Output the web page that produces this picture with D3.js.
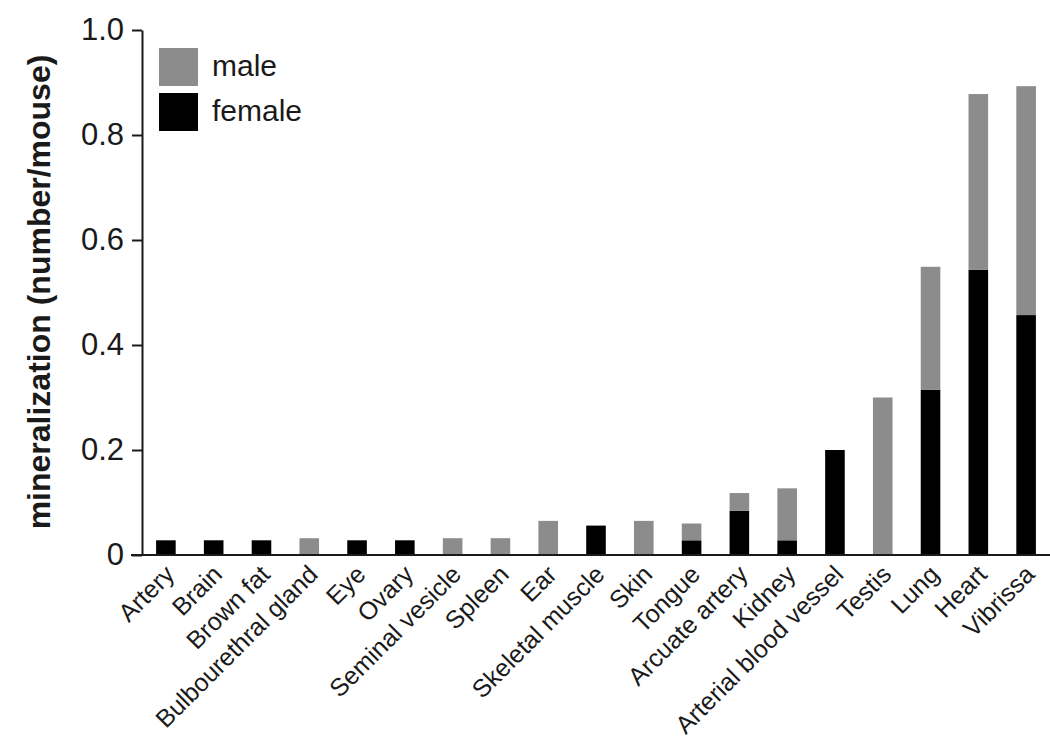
<!DOCTYPE html>
<html>
<head>
<meta charset="utf-8">
<script src="https://cdn.jsdelivr.net/npm/d3@7/dist/d3.min.js"></script>
<style>
  html, body { margin: 0; padding: 0; background: #fff; }
  svg { display: block; }
  text { font-family: "Liberation Sans", Arial, Helvetica, sans-serif; }
</style>
</head>
<body>
<svg id="chart" width="1050" height="746"></svg>
<script>
const categories = ["Artery", "Brain", "Brown fat", "Bulbourethral gland", "Eye", "Ovary",
  "Seminal vesicle", "Spleen", "Ear", "Skeletal muscle", "Skin", "Tongue", "Arcuate artery",
  "Kidney", "Arterial blood vessel", "Testis", "Lung", "Heart", "Vibrissa"];
const femaleValues = [0.028, 0.028, 0.028, 0, 0.028, 0.028, 0, 0, 0, 0.056, 0, 0.028, 0.084,
  0.028, 0.200, 0, 0.315, 0.543, 0.457];
const maleValues = [0, 0, 0, 0.032, 0, 0, 0.032, 0.032, 0.065, 0, 0.065, 0.032, 0.034,
  0.099, 0, 0.300, 0.234, 0.335, 0.436];
const yTicks = [0, 0.2, 0.4, 0.6, 0.8, 1.0];
const yTickLabels = ["0", "0.2", "0.4", "0.6", "0.8", "1.0"];
const seriesNames = ["male", "female"];
const seriesColors = ["#8c8c8c", "#000000"];
const yTitle = "mineralization (number/mouse)";

const svg = d3.select("#chart");
const axisX = 142, axisRight = 1050, y0 = 555, yTop = 30;

const x = d3.scaleBand().domain(categories).range([axisX, axisRight])
  .paddingInner(0.59).paddingOuter(0.295);
const y = d3.scaleLinear().domain([0, 1]).range([y0, yTop]);

const rows = categories.map((c, i) => ({ cat: c, female: femaleValues[i], male: maleValues[i] }));
const stack = d3.stack().keys(["female", "male"])(rows);
const colorOf = { female: seriesColors[1], male: seriesColors[0] };

svg.append("g").selectAll("g").data(stack).join("g")
  .attr("fill", d => colorOf[d.key])
  .selectAll("rect").data(d => d).join("rect")
  .attr("x", d => x(d.data.cat))
  .attr("width", x.bandwidth())
  .attr("y", d => y(d[1]))
  .attr("height", d => Math.max(0, y(d[0]) - y(d[1])));

// y axis
const yAxis = svg.append("g").attr("transform", `translate(${axisX},0)`)
  .call(d3.axisLeft(y).tickValues(yTicks).tickFormat((d, i) => yTickLabels[i])
    .tickSize(10).tickPadding(8).tickSizeOuter(0));
yAxis.select(".domain").attr("stroke", "#1a1a1a").attr("stroke-width", 2);
yAxis.selectAll(".tick line").attr("stroke", "#1a1a1a").attr("stroke-width", 2);
yAxis.selectAll(".tick text").attr("font-size", 31).attr("fill", "#1a1a1a")
  .attr("font-family", "Liberation Sans, Arial, sans-serif");

// x axis
const xAxis = svg.append("g").attr("transform", `translate(0,${y0})`)
  .call(d3.axisBottom(x).tickSize(0).tickSizeOuter(0).tickPadding(0));
xAxis.select(".domain").attr("stroke", "#1a1a1a").attr("stroke-width", 2)
  .attr("d", `M${axisX - 11},0H${axisRight}`);
xAxis.selectAll(".tick text")
  .attr("font-size", 25)
  .attr("fill", "#1a1a1a")
  .attr("font-family", "Liberation Sans, Arial, sans-serif")
  .attr("text-anchor", "end")
  .attr("dy", null)
  .attr("transform", "translate(10,21) rotate(-45)");

// y title
svg.append("text")
  .attr("transform", `translate(50,${(47 + 537) / 2}) rotate(-90)`)
  .attr("text-anchor", "middle")
  .attr("font-size", 32)
  .attr("font-weight", "bold")
  .attr("fill", "#1a1a1a")
  .text(yTitle);

// legend
const leg = svg.append("g").attr("transform", "translate(159,48)");
seriesNames.forEach((name, i) => {
  const g = leg.append("g").attr("transform", `translate(0,${i * 45})`);
  g.append("rect").attr("width", 39).attr("height", 38).attr("fill", seriesColors[i]);
  g.append("text").attr("x", 53).attr("y", 28).attr("font-size", 30)
    .attr("fill", "#1a1a1a").text(name);
});
</script>
</body>
</html>
